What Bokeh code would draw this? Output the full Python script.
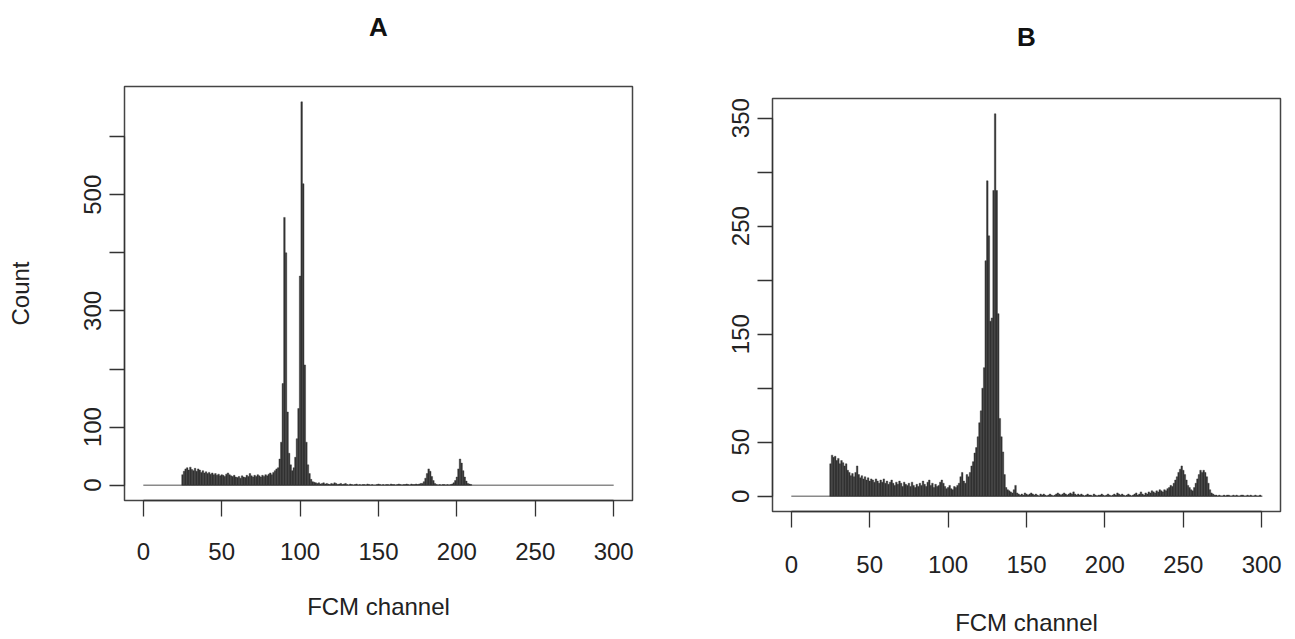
from bokeh.plotting import figure
from bokeh.layouts import row, column
from bokeh.models import Range1d, FixedTicker, ColumnDataSource, LinearAxis, Spacer
from bokeh.embed import file_html
from bokeh.resources import INLINE

# ---------------- data ----------------
channel_min, channel_max = 0, 300

a_title = "A"
a_first_channel = 25
a_counts = [
    # 25-85 background
    18, 24, 28, 30, 26, 31, 27, 25, 29, 24, 28, 26, 22, 25, 21, 23, 20, 22, 19, 21,
    18, 20, 17, 19, 16, 18, 17, 15, 19, 21, 18, 16, 15, 17, 14, 13, 15, 12, 16, 14,
    13, 17, 15, 20, 16, 14, 17, 15, 18, 16, 14, 17, 15, 18, 16, 19, 21, 18, 22, 25, 28,
    # 86-108 G1 / G2 peaks
    30, 45, 74, 175, 461, 400, 126, 55, 35, 25, 30, 48, 80, 132, 360, 660, 519, 207,
    74, 35, 20, 10, 6,
    # 109-177
    5, 4, 3, 4, 2, 3, 4, 2, 3, 2, 1, 3, 2, 4, 3, 1, 2, 3, 1, 2, 3, 1, 0, 2, 1, 0, 1,
    2, 0, 1, 0, 1, 1, 0, 2, 1, 0, 1, 0, 0, 1, 2, 1, 0, 1, 0, 1, 1, 0, 2, 1, 1, 0, 1,
    2, 1, 0, 1, 1, 2, 1, 0, 2, 1, 1, 2, 1, 2, 3,
    # 178-209 small peaks
    3, 6, 12, 20, 28, 24, 15, 8, 3, 1, 0, 1, 0, 1, 1, 0, 1, 0, 1, 2, 4, 8, 14, 28,
    45, 38, 25, 14, 7, 3, 2, 1,
]

b_title = "B"
b_first_channel = 25
b_counts = [
    # 25-112 background
    30, 38, 36, 37, 33, 35, 30, 33, 31, 28, 30, 24, 22, 19, 21, 18, 22, 28, 20, 17,
    19, 16, 18, 15, 17, 14, 16, 15, 13, 16, 14, 12, 15, 13, 16, 12, 14, 11, 13, 15,
    12, 10, 13, 11, 14, 12, 9, 13, 11, 10, 12, 9, 13, 10, 8, 11, 9, 12, 10, 14,
    11, 9, 13, 15, 10, 12, 8, 11, 9, 10, 13, 15, 12, 9, 7, 8, 10, 7, 6, 9,
    8, 10, 12, 18, 22, 14, 12, 20,
    # 113-138 main peak
    18, 22, 28, 32, 40, 45, 55, 68, 79, 100, 119, 218, 292, 241, 162, 165, 283, 354,
    283, 169, 72, 55, 41, 20, 8, 6,
    # 139-235
    5, 4, 3, 6, 10, 3, 2, 1, 2, 1, 3, 2, 1, 2, 3, 2, 1, 2, 1, 0, 2, 1, 2, 1, 0, 1,
    2, 1, 0, 1, 2, 3, 2, 1, 2, 3, 2, 1, 2, 3, 2, 4, 2, 1, 2, 1, 2, 1, 0, 1, 2, 1,
    1, 0, 2, 1, 0, 1, 1, 2, 1, 0, 1, 2, 1, 0, 1, 2, 1, 3, 2, 1, 2, 1, 0, 1, 2, 1,
    0, 1, 2, 3, 1, 2, 4, 2, 1, 3, 2, 4, 3, 5, 4, 3, 5, 4, 6,
    # 236-270 small peaks
    5, 4, 6, 5, 7, 8, 10, 9, 12, 15, 18, 22, 25, 28, 24, 20, 15, 10, 8, 6, 5, 8, 12,
    16, 20, 24, 22, 24, 22, 18, 12, 6, 3, 2, 1,
    # 271-300
    1, 0, 1, 0, 0, 1, 0, 1, 1, 0, 0, 1, 0, 1, 0, 0, 1, 1, 0, 0, 1, 0, 1, 0, 0, 1, 0,
    0, 1, 0,
]

x_ticks = [0, 50, 100, 150, 200, 250, 300]
a_y_ticks = [0, 100, 200, 300, 400, 500, 600]
a_y_shown = [0, 100, 300, 500]
b_y_ticks = [0, 50, 100, 150, 200, 250, 300, 350]
b_y_shown = [0, 50, 150, 250, 350]

x_label = "FCM channel"
a_y_label = "Count"

FONT = "'Liberation Sans', Arial, Helvetica, sans-serif"
DARK = "#333333"


def make_panel(title, first, counts, y_ticks, y_shown, y_label, width, height,
               bl, br, bt, bb, title_standoff, xl_standoff, xt_standoff):
    ymax = max(counts)
    pad = 0.04 * ymax
    xpad = 0.04 * (channel_max - channel_min)
    p = figure(width=width, height=height, output_backend="svg",
               toolbar_location=None, title=None,
               x_range=Range1d(channel_min - xpad, channel_max + xpad),
               y_range=Range1d(-pad, ymax + pad),
               min_border_left=bl, min_border_right=br,
               min_border_top=bt, min_border_bottom=bb)
    p.background_fill_color = "white"
    p.border_fill_color = "white"
    p.grid.visible = False
    p.outline_line_color = "#444444"
    p.outline_line_width = 1.5

    channels = list(range(first, first + len(counts)))
    src = ColumnDataSource(dict(x=channels, top=counts))
    # baseline across the full channel range
    p.line(x=[channel_min, channel_max], y=[0, 0], line_color="#8a8a8a", line_width=1.5)
    p.vbar(x="x", top="top", bottom=0, width=1.0, source=src,
           fill_color=DARK, line_color=DARK, line_width=0.4)

    # panel letter above the plot box (label of an undecorated top axis)
    ta = LinearAxis(ticker=FixedTicker(ticks=[]), axis_label=title,
                    axis_line_color=None, major_tick_line_color=None,
                    minor_tick_line_color=None, major_tick_in=0, major_tick_out=0,
                    major_label_standoff=0, axis_label_standoff=title_standoff,
                    axis_label_text_font=FONT, axis_label_text_font_size="26px",
                    axis_label_text_font_style="bold", axis_label_text_color="#111111")
    p.add_layout(ta, "above")

    xa = p.below[0]
    xa.ticker = FixedTicker(ticks=x_ticks)
    xa.bounds = (channel_min, channel_max)
    xa.minor_tick_line_color = None
    xa.major_tick_in = 0
    xa.major_tick_out = 16
    xa.major_tick_line_color = DARK
    xa.major_tick_line_width = 1.3
    xa.axis_line_color = DARK
    xa.axis_line_width = 1.3
    xa.major_label_text_font = FONT
    xa.major_label_text_font_size = "24px"
    xa.major_label_text_color = "#222222"
    xa.major_label_standoff = xt_standoff
    xa.axis_label = x_label
    xa.axis_label_text_font = FONT
    xa.axis_label_text_font_size = "24px"
    xa.axis_label_text_font_style = "normal"
    xa.axis_label_text_color = "#222222"
    xa.axis_label_standoff = xl_standoff

    ya = p.left[0]
    ya.ticker = FixedTicker(ticks=y_ticks)
    ya.bounds = (y_ticks[0], y_ticks[-1])
    ya.major_label_overrides = {t: (str(t) if t in y_shown else "") for t in y_ticks}
    ya.minor_tick_line_color = None
    ya.major_tick_in = 0
    ya.major_tick_out = 15
    ya.major_tick_line_color = DARK
    ya.major_tick_line_width = 1.3
    ya.axis_line_color = DARK
    ya.axis_line_width = 1.3
    ya.major_label_orientation = "vertical"
    ya.major_label_text_font = FONT
    ya.major_label_text_font_size = "24px"
    ya.major_label_text_color = "#222222"
    ya.major_label_standoff = 8
    if y_label:
        ya.axis_label = y_label
        ya.axis_label_text_font = FONT
        ya.axis_label_text_font_size = "24px"
        ya.axis_label_text_font_style = "normal"
        ya.axis_label_text_color = "#222222"
        ya.axis_label_standoff = 48
    return p


pa = make_panel(a_title, a_first_channel, a_counts, a_y_ticks, a_y_shown, a_y_label,
                width=640, height=630, bl=124, br=8, bt=86, bb=130,
                title_standoff=45, xl_standoff=30, xt_standoff=26)
pb = make_panel(b_title, b_first_channel, b_counts, b_y_ticks, b_y_shown, None,
                width=654, height=626, bl=132, br=14, bt=86, bb=127,
                title_standoff=47, xl_standoff=33, xt_standoff=28)

layout = row(pa, column(Spacer(width=654, height=12), pb))
open("out.html", "w").write(file_html(layout, INLINE))
